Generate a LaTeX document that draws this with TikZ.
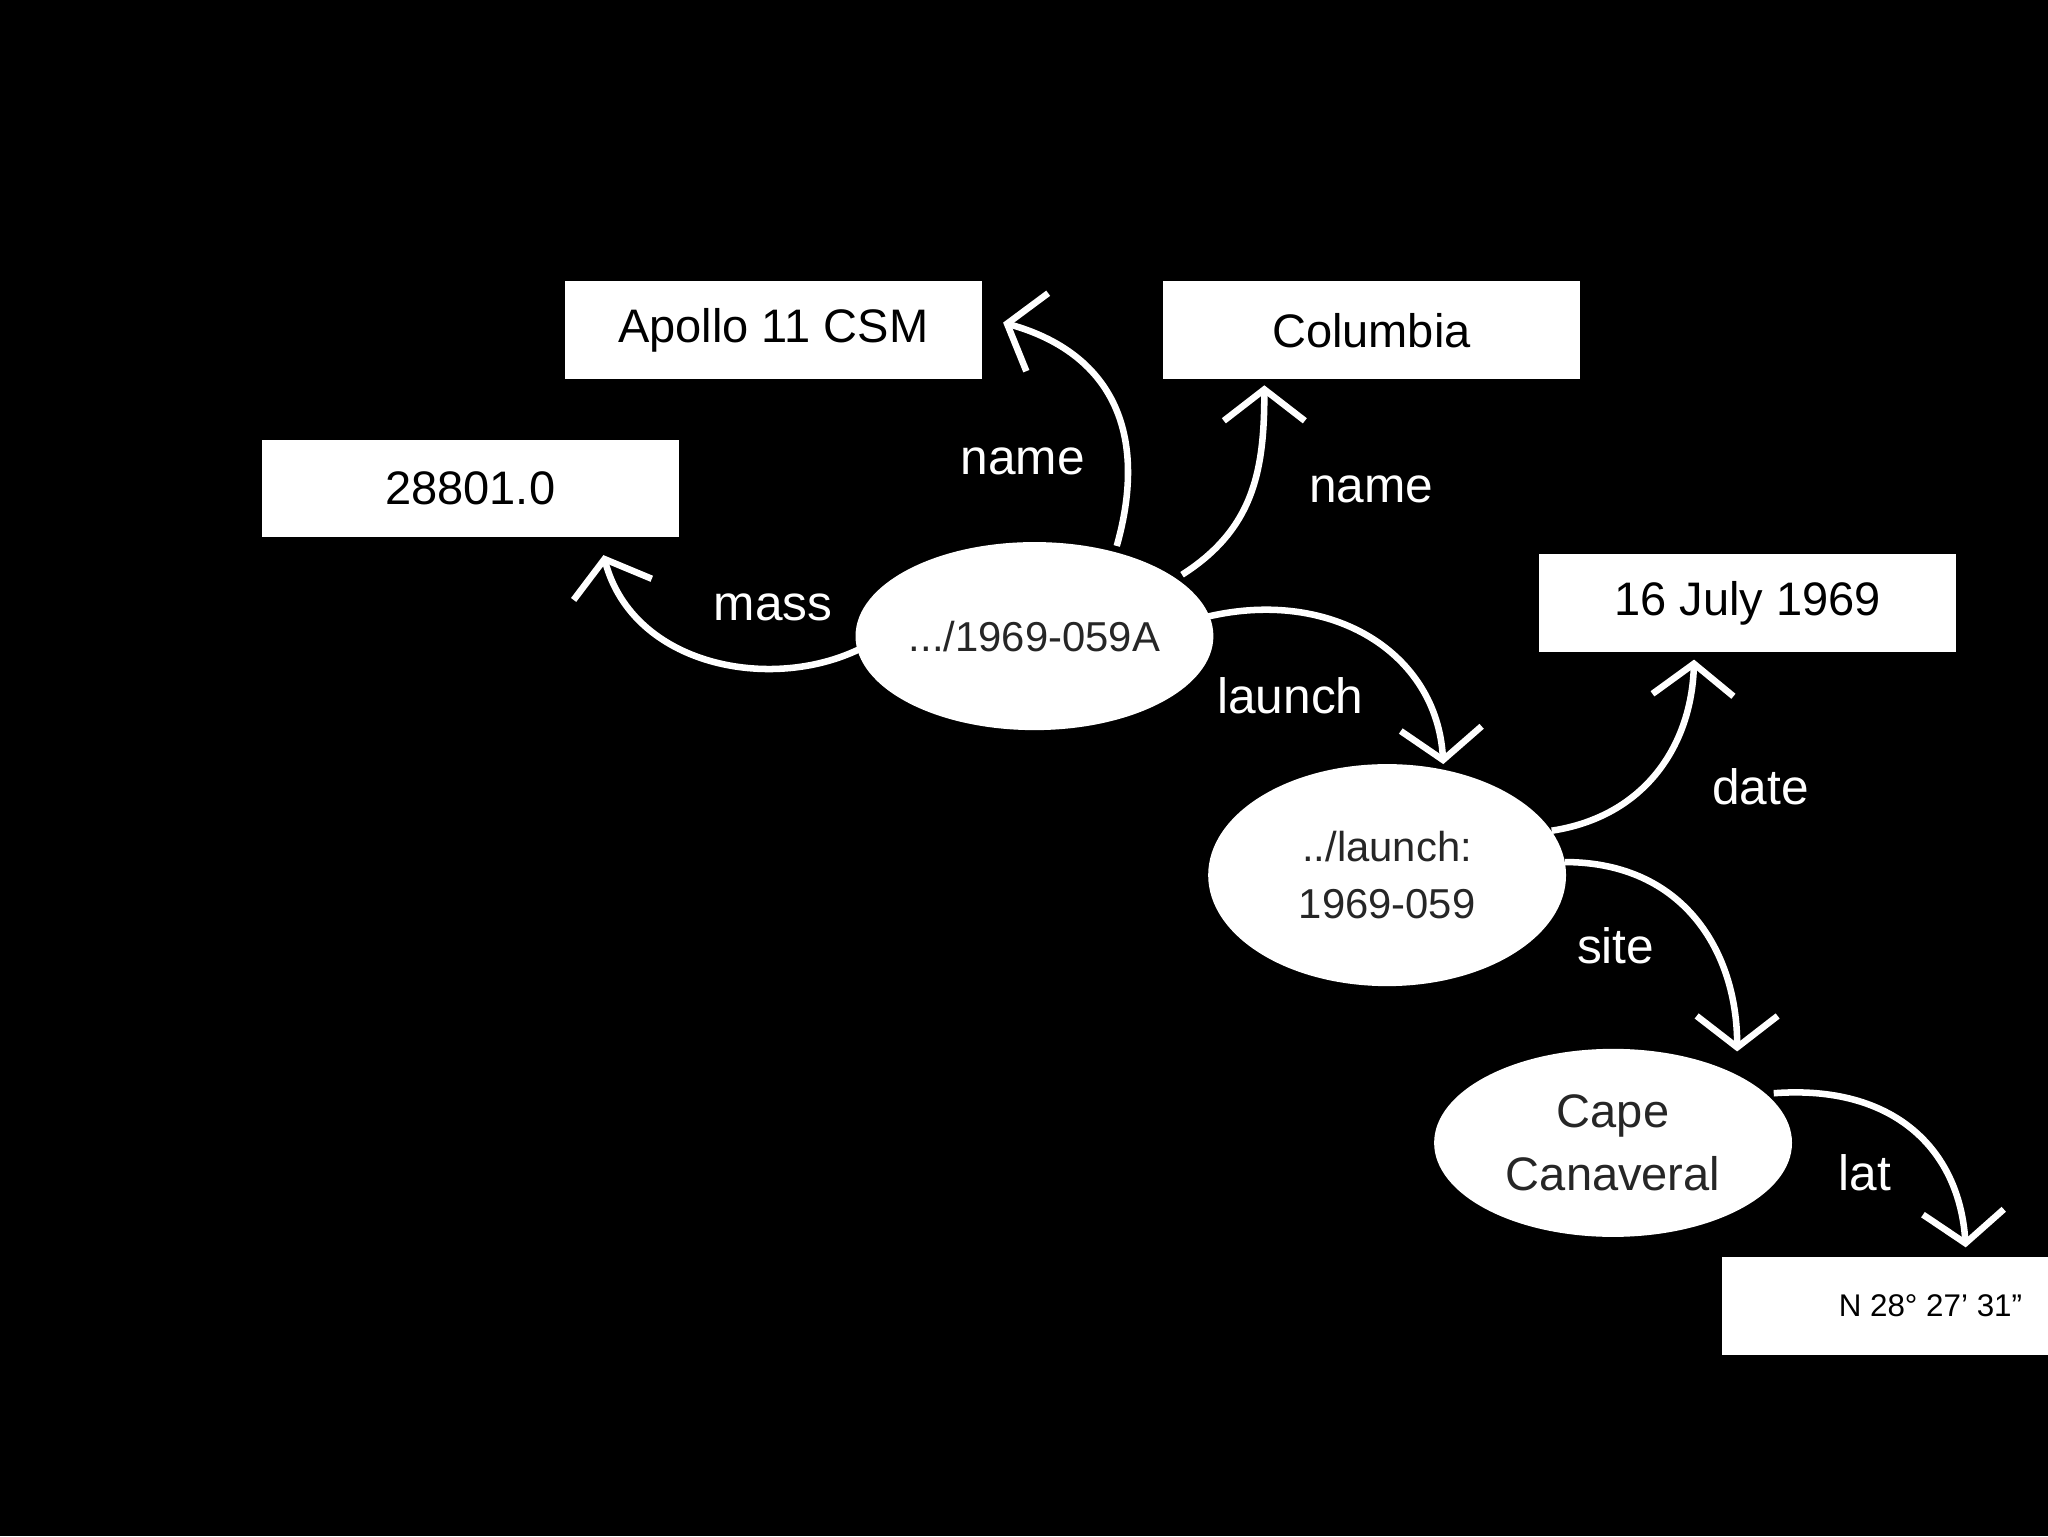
\documentclass[tikz,border=0pt]{standalone}
\usepackage{fontspec}
\setmainfont{Liberation Sans}
\usetikzlibrary{arrows.meta,shapes.geometric}
\begin{document}
\begin{tikzpicture}[x=1pt,y=-1pt,
  box/.style={fill=white,minimum width=319pt,minimum height=75pt,inner sep=0pt,font=\fontsize{36}{40}\selectfont,text=black},
  ell/.style={ellipse,fill=white,inner sep=0pt,font=\fontsize{32}{44}\selectfont,text=black!85,align=center},
  lab/.style={text=white,font=\fontsize{38}{42}\selectfont},
  arr/.style={draw=white,line width=5pt,-{Straight Barb[length=24pt,width=62pt,line width=5pt]}}]
\fill[black] (0,0) rectangle (1568,1176);
\useasboundingbox (0,0) rectangle (1568,1176);
\node[box] (apollo) at (592,253) {Apollo 11 CSM};
\node[box] (columbia) at (1050,253) {Columbia};
\node[box] (mass) at (360,374) {28801.0};
\node[box] (date) at (1338,462) {16 July 1969};
\node[box,font=\fontsize{24}{28}\selectfont] (lat) at (1478,1000) {N 28° 27' 31''};
\node[ell,minimum width=274pt,minimum height=144pt] (e1) at (792,487) {.../1969-059A};
\node[ell,minimum width=274pt,minimum height=170pt] (e2) at (1062,670) {../launch:\\1969-059};
\node[ell,minimum width=274pt,minimum height=144pt,font=\fontsize{36}{48}\selectfont] (e3) at (1235,875) {Cape\\Canaveral};
\coordinate (a1) at (855,418); \coordinate (b1) at (768,247);
\draw[arr] (a1) .. controls (880,330) and (850,270) .. (b1);
\coordinate (a2) at (905,440); \coordinate (b2) at (968,295);
\draw[arr] (a2) .. controls (960,405) and (968,360) .. (b2);
\coordinate (a3) at (658,497); \coordinate (b3) at (462,425);
\draw[arr] (a3) .. controls (590,530) and (485,510) .. (b3);
\coordinate (a4) at (925,472); \coordinate (b4) at (1105,585);
\draw[arr] (a4) .. controls (1020,450) and (1100,500) .. (b4);
\coordinate (a5) at (1188,636); \coordinate (b5) at (1297,505);
\draw[arr] (a5) .. controls (1260,625) and (1295,570) .. (b5);
\coordinate (a6) at (1198,660); \coordinate (b6) at (1330,805);
\draw[arr] (a6) .. controls (1290,660) and (1330,730) .. (b6);
\coordinate (a7) at (1358,837); \coordinate (b7) at (1505,955);
\draw[arr] (a7) .. controls (1450,830) and (1500,880) .. (b7);
\node[lab] (l1) at (783,353) {name};
\node[lab] (l2) at (1050,375) {name};
\node[lab] (l3) at (592,465) {mass};
\node[lab] (l4) at (988,533) {launch};
\node[lab] (l5) at (1348,602) {date};
\node[lab] (l6) at (1237,724) {site};
\node[lab] (l7) at (1428,898) {lat};
\end{tikzpicture}
\end{document}
